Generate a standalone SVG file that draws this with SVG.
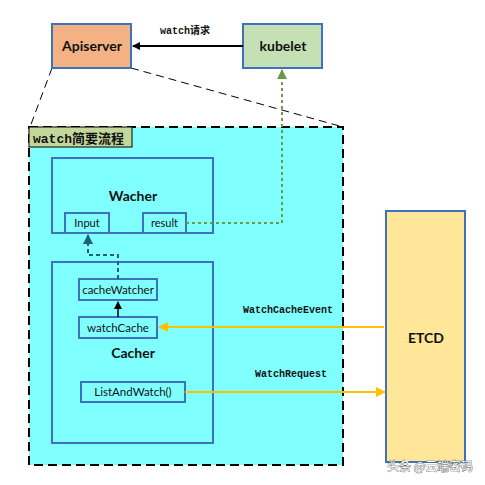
<svg xmlns="http://www.w3.org/2000/svg" width="485" height="485" viewBox="0 0 485 485">
<style>
.box{stroke:#3F72BE;stroke-width:2}
.lbl{font-family:Lato,"Open Sans","Liberation Sans",sans-serif;fill:#111;text-anchor:middle}
.b{font-weight:bold}
.mono{font-family:"Liberation Mono","Noto Sans CJK SC",monospace;font-weight:bold;font-size:10px;fill:#111}
</style>
<defs>
<marker id="ablack" markerWidth="8" markerHeight="8" refX="7" refY="4" orient="auto" markerUnits="userSpaceOnUse"><path d="M0,0 L8,4 L0,8 Z" fill="#000"/></marker>
<marker id="ayellow" markerWidth="10" markerHeight="10" refX="9" refY="5" orient="auto" markerUnits="userSpaceOnUse"><path d="M0,0 L10,5 L0,10 Z" fill="#FFC000"/></marker>
<marker id="agreen" markerWidth="10" markerHeight="10" refX="9" refY="5" orient="auto" markerUnits="userSpaceOnUse"><path d="M0,0 L10,5 L0,10 Z" fill="#6E9A48"/></marker>
<marker id="ateal" markerWidth="10" markerHeight="10" refX="9" refY="5" orient="auto" markerUnits="userSpaceOnUse"><path d="M0,0 L10,5 L0,10 Z" fill="#1F5F78"/></marker>
</defs>
<rect width="485" height="485" fill="#fff"/>
<!-- zoom lines -->
<g id="zoom-lines" fill="none" stroke="#000" stroke-width="1" stroke-dasharray="8,5">
<line x1="52" y1="68" x2="30" y2="127"/>
<line x1="131" y1="68" x2="343" y2="127"/>
</g>
<g id="flow">
<rect x="29" y="127" width="314" height="338" fill="#80FFFF" stroke="#000" stroke-width="2" stroke-dasharray="9,5"/>
<rect x="29" y="127" width="103" height="20" fill="#C4D79B" stroke="#000" stroke-width="1"/>
<text x="33" y="143" font-family="'Liberation Mono','Noto Sans CJK SC',monospace" font-weight="bold" font-size="13" fill="#111">watch简要流程</text>
</g>
<g id="apiserver">
<rect class="box" x="52" y="24" width="79" height="44" fill="#F4B183"/>
<text class="lbl b" x="92" y="51" font-size="14">Apiserver</text>
</g>
<g id="kubelet">
<rect class="box" x="243" y="24" width="79" height="44" fill="#C5E0B4"/>
<text class="lbl b" x="283" y="51" font-size="14">kubelet</text>
</g>
<g id="wacher">
<rect class="box" x="52" y="158" width="161" height="75" fill="none"/>
<text class="lbl b" x="133" y="201" font-size="14">Wacher</text>
</g>
<g id="input">
<rect class="box" x="65" y="213" width="44" height="20" fill="none"/>
<text class="lbl" x="87" y="227" font-size="11">Input</text>
</g>
<g id="result">
<rect class="box" x="143" y="213" width="43" height="20" fill="none"/>
<text class="lbl" x="164.500" y="227" font-size="11">result</text>
</g>
<g id="cacher">
<rect class="box" x="52" y="262" width="161" height="181" fill="none"/>
<text class="lbl b" x="133" y="358" font-size="14">Cacher</text>
</g>
<g id="cacheWatcher">
<rect class="box" x="79" y="279" width="78" height="21" fill="none"/>
<text class="lbl" x="118" y="294" font-size="11.500">cacheWatcher</text>
</g>
<g id="watchCache">
<rect class="box" x="79" y="317" width="78" height="21" fill="none"/>
<text class="lbl" x="118" y="332" font-size="11.500">watchCache</text>
</g>
<g id="listAndWatch">
<rect class="box" x="81" y="382" width="104" height="20" fill="none"/>
<text class="lbl" x="133" y="396" font-size="11.500">ListAndWatch()</text>
</g>
<g id="etcd">
<rect class="box" x="386" y="211" width="79" height="251" fill="#FFE699"/>
<text class="lbl b" x="426" y="343" font-size="14">ETCD</text>
</g>
<g id="connectors" fill="none">
<line x1="243" y1="46" x2="133" y2="46" stroke="#000" stroke-width="2" marker-end="url(#ablack)"/>
<text class="mono" x="160" y="34">watch请求</text>
<polyline points="186,223 282,223 282,70" stroke="#6E9A48" stroke-width="2" stroke-dasharray="3,3" marker-end="url(#agreen)"/>
<polyline points="118,279 118,255 88,255 88,235" stroke="#1F5F78" stroke-width="2" stroke-dasharray="4,3" marker-end="url(#ateal)"/>
<line x1="118" y1="317" x2="118" y2="302" stroke="#000" stroke-width="1.500" marker-end="url(#ablack)"/>
<line x1="384" y1="327" x2="159" y2="327" stroke="#FFC000" stroke-width="2" marker-end="url(#ayellow)"/>
<line x1="185" y1="392" x2="385" y2="392" stroke="#FFC000" stroke-width="2" marker-end="url(#ayellow)"/>
<text class="mono" x="243" y="313">WatchCacheEvent</text>
<text class="mono" x="255" y="377">WatchRequest</text>
</g>
<text x="387" y="471" font-family="'Noto Sans CJK SC',sans-serif" font-size="12" fill="#fff" stroke="#555" stroke-width="0.700" paint-order="stroke">头条 @云端密码</text>
</svg>
